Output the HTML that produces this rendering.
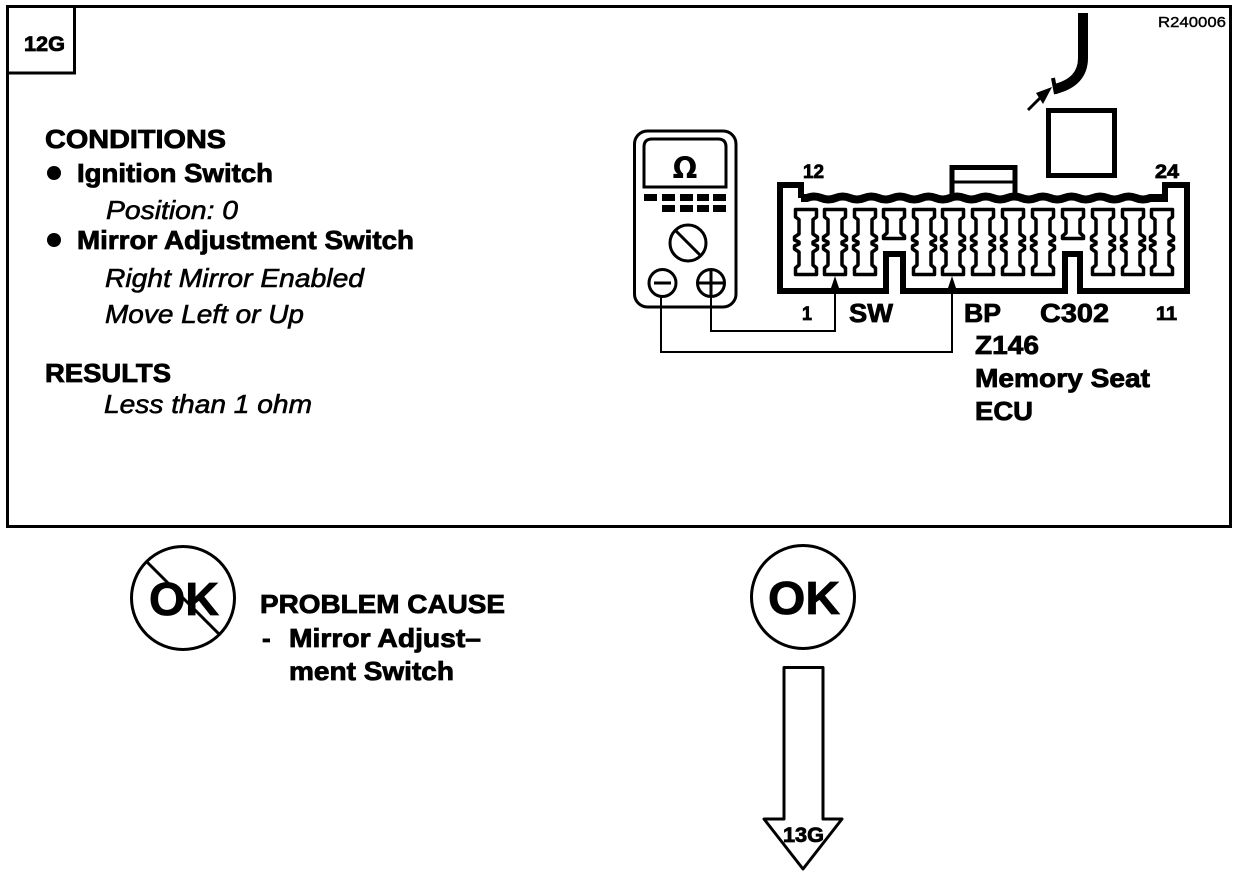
<!DOCTYPE html>
<html><head><meta charset="utf-8"><style>
html,body{margin:0;padding:0;background:#fff;width:1248px;height:878px;overflow:hidden}
svg{display:block}
text{font-family:"Liberation Sans",sans-serif;fill:#000;font-weight:bold;stroke:#000;stroke-width:.8}
.i{font-style:italic;font-weight:normal;stroke-width:.6}
</style></head><body>
<svg width="1248" height="878" viewBox="0 0 1248 878" xmlns="http://www.w3.org/2000/svg">
<defs>
<path id="c" fill="#fff" stroke="#000" stroke-width="3.500" stroke-linejoin="round" d="M1.500,1.500H22.500V9L19,11.500V26L23.500,29V32L19,34V36L23.500,38V41L19,44V57L22.500,60V66.500H1.500V60L5,57V44L.5,41V38L5,36V34L.5,32V29L5,26V11.500L1.500,9Z"/>
<path id="t" fill="#fff" stroke="#000" stroke-width="3.500" stroke-linejoin="round" d="M1.500,1.500H22.500V9L19,11.500V25L22.500,28V30.500H1.500V28L5,25V11.500L1.500,9Z"/>
</defs>
<rect x="7.500" y="6.500" width="1223" height="520" fill="none" stroke="#000" stroke-width="3"/>
<rect x="7.500" y="6.500" width="67" height="66.500" fill="none" stroke="#000" stroke-width="3"/>
<text x="24" y="51" font-size="21" textLength="41" lengthAdjust="spacingAndGlyphs">12G</text>
<text x="1158" y="27" font-size="15" textLength="68" lengthAdjust="spacingAndGlyphs" style="font-weight:normal;stroke-width:.4">R240006</text>

<text x="45" y="148" font-size="26" textLength="181" lengthAdjust="spacingAndGlyphs">CONDITIONS</text>
<circle cx="54" cy="173" r="7" fill="#000"/>
<text x="77" y="182" font-size="26" textLength="196" lengthAdjust="spacingAndGlyphs">Ignition Switch</text>
<text class="i" x="106" y="219" font-size="26" textLength="132" lengthAdjust="spacingAndGlyphs">Position: 0</text>
<circle cx="54" cy="240" r="7" fill="#000"/>
<text x="77" y="249" font-size="26" textLength="337" lengthAdjust="spacingAndGlyphs">Mirror Adjustment Switch</text>
<text class="i" x="105" y="287" font-size="26" textLength="259" lengthAdjust="spacingAndGlyphs">Right Mirror Enabled</text>
<text class="i" x="105" y="323" font-size="26" textLength="199" lengthAdjust="spacingAndGlyphs">Move Left or Up</text>
<text x="45" y="382" font-size="26" textLength="126" lengthAdjust="spacingAndGlyphs">RESULTS</text>
<text class="i" x="104" y="413" font-size="26" textLength="208" lengthAdjust="spacingAndGlyphs">Less than 1 ohm</text>

<!-- meter -->
<rect x="634.500" y="131" width="101.500" height="176" rx="13" fill="#fff" stroke="#000" stroke-width="3"/>
<path d="M644,187V147Q644,139 652,139H718Q726,139 726,147V187Z" fill="#fff" stroke="#000" stroke-width="3"/>
<text x="685" y="178" font-size="29" text-anchor="middle" style="font-family:'DejaVu Sans',sans-serif;stroke-width:0">Ω</text>
<g fill="#000">
<rect x="644" y="194" width="13" height="7"/><rect x="662" y="194" width="13" height="7"/><rect x="680" y="194" width="13" height="7"/><rect x="697" y="194" width="12" height="7"/><rect x="713" y="194" width="13" height="7"/>
<rect x="662" y="205" width="13" height="7"/><rect x="680" y="205" width="13" height="7"/><rect x="697" y="205" width="12" height="7"/><rect x="713" y="205" width="13" height="7"/>
</g>
<g fill="none" stroke="#000" stroke-width="3">
<circle cx="688" cy="243" r="18"/><path d="M675,230L701,256"/>
<circle cx="662.500" cy="283" r="13.500"/><path d="M654,283H671"/>
<circle cx="711" cy="283" r="13.500"/><path d="M698,283H724M711,270V296"/>
<path stroke-width="2" d="M711,296V331H835V280"/>
<path stroke-width="2" d="M661,296V352H952V280"/>
</g>
<path d="M830,291L835,276L840,291Z M947,291L952,276L957,291Z" fill="#000"/>

<!-- connector -->
<g>
<use href="#c" x="794" y="208"/><use href="#c" x="823" y="208"/><use href="#c" x="853" y="208"/><use href="#t" x="882" y="208"/>
<use href="#c" x="912" y="208"/><use href="#c" x="941" y="208"/><use href="#c" x="971" y="208"/><use href="#c" x="1001" y="208"/>
<use href="#c" x="1031" y="208"/><use href="#t" x="1061" y="208"/><use href="#c" x="1091" y="208"/><use href="#c" x="1121" y="208"/><use href="#c" x="1150" y="208"/>
</g>
<path fill="none" stroke="#000" stroke-width="6" stroke-linejoin="miter" d="M801,198V185H780V291H886V254H903V291H1065V254H1080V291H1187V185H1165V198"/>
<path fill="none" stroke="#000" stroke-width="8" d="M801,198h6q7,-3 14.300,0q7,3 14.300,0q7,-3 14.300,0q7,3 14.300,0q7,-3 14.300,0q7,3 14.300,0q7,-3 14.300,0q7,3 14.300,0q7,-3 14.300,0q7,3 14.300,0q7,-3 14.300,0q7,3 14.300,0q7,-3 14.300,0q7,3 14.300,0q7,-3 14.300,0q7,3 14.300,0q7,-3 14.300,0q7,3 14.300,0q7,-3 14.300,0q7,3 14.300,0q7,-3 14.300,0q7,3 14.300,0q7,-3 14.300,0q7,3 14.300,0H1168"/>
<path fill="none" stroke="#000" stroke-width="5" d="M952,194V167.500H1015V194"/>
<path fill="none" stroke="#000" stroke-width="3" d="M953,182H1015"/>
<rect x="1048.500" y="110.500" width="66" height="65" fill="#fff" stroke="#000" stroke-width="5"/>
<path d="M1083,13V58Q1083,82 1055,89" fill="none" stroke="#000" stroke-width="10"/>
<path d="M1053,78L1056,94" stroke="#000" stroke-width="4"/>
<path d="M1028,110L1041,97" stroke="#000" stroke-width="3"/>
<path d="M1036,93L1052,87L1043,104Z" fill="#000"/>

<text x="803" y="178" font-size="19" textLength="21" lengthAdjust="spacingAndGlyphs">12</text>
<text x="1155" y="178" font-size="19" textLength="24" lengthAdjust="spacingAndGlyphs">24</text>
<text x="802" y="320" font-size="19" textLength="10" lengthAdjust="spacingAndGlyphs">1</text>
<text x="1156" y="320" font-size="19" textLength="21" lengthAdjust="spacingAndGlyphs">11</text>
<text x="849" y="322" font-size="26" textLength="44" lengthAdjust="spacingAndGlyphs">SW</text>
<text x="964" y="322" font-size="26" textLength="37" lengthAdjust="spacingAndGlyphs">BP</text>
<text x="1040" y="322" font-size="26" textLength="69" lengthAdjust="spacingAndGlyphs">C302</text>
<text x="975" y="354" font-size="26" textLength="64" lengthAdjust="spacingAndGlyphs">Z146</text>
<text x="975" y="387" font-size="26" textLength="175" lengthAdjust="spacingAndGlyphs">Memory Seat</text>
<text x="975" y="420" font-size="26" textLength="58" lengthAdjust="spacingAndGlyphs">ECU</text>

<!-- bottom left -->
<circle cx="183" cy="598" r="51.500" fill="none" stroke="#000" stroke-width="3"/>
<text x="149" y="615" font-size="46" textLength="70" lengthAdjust="spacingAndGlyphs">OK</text>
<path d="M146,561L220,635" stroke="#000" stroke-width="3"/>
<text x="260" y="613" font-size="26" textLength="245" lengthAdjust="spacingAndGlyphs">PROBLEM CAUSE</text>
<text x="262" y="647" font-size="26">-</text>
<text x="289" y="647" font-size="26" textLength="192" lengthAdjust="spacingAndGlyphs">Mirror Adjust–</text>
<text x="289" y="680" font-size="26" textLength="165" lengthAdjust="spacingAndGlyphs">ment Switch</text>

<!-- bottom right -->
<circle cx="803" cy="597" r="51.500" fill="none" stroke="#000" stroke-width="3"/>
<text x="768" y="614" font-size="46" textLength="72" lengthAdjust="spacingAndGlyphs">OK</text>
<path d="M784,819V667.500H823V819H842L803,869L764,819Z" fill="#fff" stroke="#000" stroke-width="3" stroke-linejoin="round"/>
<text x="783" y="842" font-size="21" textLength="41" lengthAdjust="spacingAndGlyphs">13G</text>
</svg>
</body></html>
